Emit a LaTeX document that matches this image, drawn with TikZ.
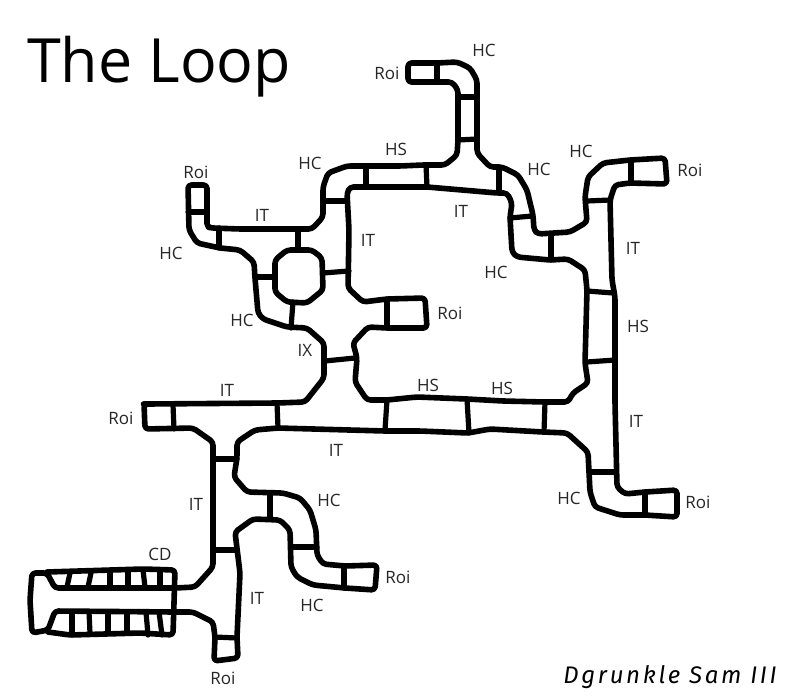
\documentclass[tikz,border=0pt]{standalone}
\usepackage{fontspec}
\setmainfont{Open Sans}
\newfontfamily\sigfont[LetterSpace=11]{Fira Sans}
\tikzset{
  pipe/.style={draw=black,line width=5.6pt,line join=round,line cap=round,rounded corners=3.5pt},
  seam/.style={draw=black,line width=5.2pt,line cap=round},
  lab/.style={font=\fontsize{17}{20}\selectfont,text=black!85,inner sep=0pt},
  titlelab/.style={font=\fontsize{61}{70}\selectfont,text=black,inner sep=0pt,anchor=base west},
  siglab/.style={font=\sigfont\itshape\fontsize{24}{28}\selectfont,text=black,inner sep=0pt}
}
\begin{document}
\begin{tikzpicture}[x=1pt,y=-1pt]
\useasboundingbox (0,0) rectangle (799,699);
\fill[white] (0,0) rectangle (799,699);
% outer wall
\draw[pipe] (207,185)--(188,185)--(189,230)--(197,243)--(220,248)--(240,250)--(254,262)--(255,278)--(258,313)--(263,319)--(287,327)--(307,328)--(324,343)--(324,378)--(305,402)--(277,403)--(147,404)--(144,404)--(145,429)--(193,428)--(213,442)--(213,483)--(213,550)--(213,567)--(195,587)--(175,588)--(55,588)--(47,573)--(32,573)--(30,600)--(32,633)--(48,630)--(55,611)--(175,612)--(193,612)--(213,622)--(215,637)--(214,661)--(238,658)--(237,637)--(240,573)--(235,532)--(253,519)--(280,520)--(290,530)--(291,567)--(297,577)--(313,585)--(345,588)--(375,590)--(377,565)--(345,566)--(323,564)--(317,555)--(316,530)--(310,510)--(300,498)--(283,493)--(247,492)--(234,477)--(237,458)--(237,442)--(255,430)--(278,428)--(385,431)--(420,431)--(468,433)--(490,429)--(543,432)--(567,433)--(588,452)--(590,492)--(595,507)--(620,515)--(645,515)--(677,517)--(677,490)--(645,492)--(625,494)--(617,487)--(615,403)--(615,297)--(612,280)--(610,200)--(615,185)--(630,183)--(667,184)--(665,158)--(630,160)--(603,163)--(588,177)--(585,197)--(587,222)--(570,232)--(538,234)--(534,230)--(533,215)--(527,190)--(518,175)--(502,167)--(490,167)--(477,153)--(477,80)--(470,68)--(457,62)--(437,63)--(408,63)--(408,82)--(452,82)--(458,90)--(458,140)--(457,155)--(445,165)--(423,165)--(400,166)--(347,166)--(328,173)--(323,187)--(323,217)--(312,229)--(240,229)--(212,228)--(207,227)--cycle;
% inner wall
\draw[pipe] (427,187)--(367,187)--(350,187)--(347,193)--(349,230)--(348,288)--(363,302)--(387,299)--(425,298)--(427,328)--(387,328)--(368,327)--(353,343)--(357,358)--(355,382)--(367,400)--(387,400)--(417,397)--(467,399)--(503,401)--(545,402)--(568,402)--(573,393)--(588,383)--(585,363)--(587,290)--(585,270)--(568,259)--(550,260)--(517,257)--(512,252)--(510,217)--(512,203)--(507,193)--(497,193)--(427,187);
% octagon
\draw[pipe] (275,260)--(287,250)--(312,250)--(322,258)--(323,290)--(307,303)--(287,302)--(275,292)--cycle;
% CD
\draw[pipe] (47,572)--(143,569)--(175,570)--(173,635)--(140,633)--(70,635)--(48,632);
% seams
\foreach \xa/\ya/\xb/\yb in {
 219/228/219/248,298/230/298/250,255/277/275/277,323/273/349/271,293/302/291/328,
 387/299/387/328,325/361/355/358,277/403/278/428,173/405/174/429,387/400/385/430,
 323/201/347/201,366/166/366/185,188/212/207/212,
 467/399/469/433,545/402/544/432,587/362/615/360,587/291/613/293,590/472/615/472,645/492/645/515,
 437/63/437/82,458/97/477/97,458/140/477/139,426/165/427/187,499/167/499/193,510/218/532/216,551/234/551/260,587/201/610/200,631/160/631/183,
 213/459/237/459,270/493/270/519,213/550/235/550,292/547/317/547,344/566/344/588,
 215/637/237/638,
 67/587/70/573,88/587/91/573,110/572/110/587,128/572/128/587,143/570/145/587,160/570/160/587,
 72/612/72/635,89/612/90/633,108/612/108/633,127/612/127/633,146/612/148/635,159/612/162/635}
 {\draw[seam] (\xa,\ya)--(\xb,\yb);}
% labels
\node[titlelab] (title) at (27,82) {The Loop};
\node[siglab] (sig) at (670,677) {Dgrunkle Sam III};
\node[lab] (l1) at (387,73) {Roi};
\node[lab] (l2) at (484,50) {HC};
\node[lab] (l3) at (196,172) {Roi};
\node[lab] (l4) at (310,163) {HC};
\node[lab] (l5) at (396,149) {HS};
\node[lab] (l6) at (539,169) {HC};
\node[lab] (l7) at (581,151) {HC};
\node[lab] (l8) at (690,170) {Roi};
\node[lab] (l9) at (262,215) {IT};
\node[lab] (l10) at (461,211) {IT};
\node[lab] (l11) at (368,240) {IT};
\node[lab] (l12) at (633,248) {IT};
\node[lab] (l13) at (171,253) {HC};
\node[lab] (l14) at (496,272) {HC};
\node[lab] (l15) at (242,320) {HC};
\node[lab] (l16) at (450,313) {Roi};
\node[lab] (l17) at (638,326) {HS};
\node[lab] (l18) at (305,350) {IX};
\node[lab] (l19) at (227,390) {IT};
\node[lab] (l20) at (428,385) {HS};
\node[lab] (l21) at (502,388) {HS};
\node[lab] (l22) at (121,418) {Roi};
\node[lab] (l23) at (636,421) {IT};
\node[lab] (l24) at (336,450) {IT};
\node[lab] (l25) at (569,498) {HC};
\node[lab] (l26) at (698,502) {Roi};
\node[lab] (l27) at (196,504) {IT};
\node[lab] (l28) at (329,500) {HC};
\node[lab] (l29) at (160,554) {CD};
\node[lab] (l30) at (257,598) {IT};
\node[lab] (l31) at (398,577) {Roi};
\node[lab] (l32) at (312,605) {HC};
\node[lab] (l33) at (223,678) {Roi};
\end{tikzpicture}
\end{document}
